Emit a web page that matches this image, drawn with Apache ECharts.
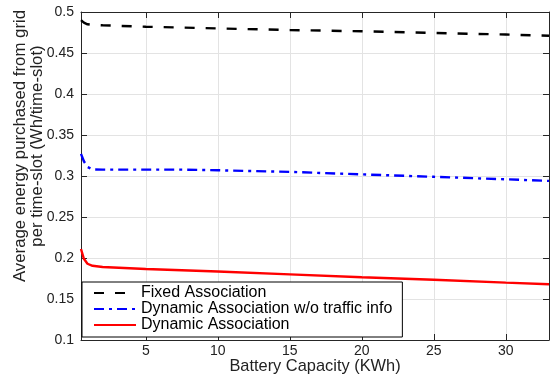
<!DOCTYPE html>
<html>
<head>
<meta charset="utf-8">
<script src="https://cdn.jsdelivr.net/npm/echarts@6/dist/echarts.min.js"></script>
<style>html,body{margin:0;padding:0;background:#fff;}#c{width:550px;height:377px;}</style>
</head>
<body>
<div id="c"></div>
<script>
const capacity = [0.5, 0.7, 0.95, 1.3, 2, 5, 7.5, 10, 15, 20, 25, 30, 33];
const fixedAssoc = [0.490, 0.487, 0.485, 0.4843, 0.4838, 0.482, 0.481, 0.480, 0.478, 0.4765, 0.4745, 0.4725, 0.471];
const dynNoTraffic = [0.327, 0.318, 0.311, 0.308, 0.3078, 0.3078, 0.3078, 0.307, 0.305, 0.302, 0.299, 0.296, 0.294];
const dynAssoc = [0.211, 0.199, 0.193, 0.1905, 0.189, 0.1865, 0.185, 0.1835, 0.180, 0.1765, 0.1735, 0.170, 0.168];
const xTicks = [5, 10, 15, 20, 25, 30];
const seriesNames = ['Fixed Association', 'Dynamic Association w/o traffic info', 'Dynamic Association'];
const xTitle = 'Battery Capacity (KWh)';
const yTitle = 'Average energy purchased from grid\nper time-slot (Wh/time-slot)';

const font = 'Liberation Sans, Arial, Helvetica, sans-serif';
const txt = '#222';
const axisCol = '#262626';
const pair = arr => capacity.map((x, i) => [x, arr[i]]);

const chart = echarts.init(document.getElementById('c'), null, {renderer: 'canvas'});
const baseX = {
  type: 'value', min: 0.5, max: 33,
  axisLine: {show: true, onZero: false, lineStyle: {color: axisCol, width: 1}},
  axisTick: {show: true, inside: true, length: 6, customValues: xTicks, lineStyle: {color: axisCol}},
  splitLine: {show: false}
};
const baseY = {
  type: 'value', min: 0.1, max: 0.5, interval: 0.05,
  axisLine: {show: true, onZero: false, lineStyle: {color: axisCol, width: 1}},
  axisTick: {show: true, inside: true, length: 6, lineStyle: {color: axisCol}},
  splitLine: {show: false}
};
chart.setOption({
  animation: false,
  backgroundColor: '#fff',
  textStyle: {fontFamily: font},
  grid: {left: 81, right: 1, top: 12, bottom: 37, containLabel: false, outerBoundsMode: 'none'},
  graphic: [{
    type: 'text', x: 28.5, y: 146, rotation: Math.PI / 2,
    style: {text: yTitle, fontSize: 16.8, lineHeight: 17, fill: txt, fontFamily: font,
            align: 'center', verticalAlign: 'middle'}
  }],
  xAxis: [
    Object.assign({}, baseX, {
      position: 'bottom',
      name: xTitle, nameLocation: 'middle', nameGap: 18, nameMoveOverlap: false,
      nameTextStyle: {fontSize: 16.4, color: txt, fontFamily: font},
      axisLabel: {show: true, customValues: xTicks, margin: 4, fontSize: 14, color: txt, fontFamily: font},
      splitLine: {show: true, lineStyle: {color: '#e3e3e3', width: 1}}
    }),
    Object.assign({}, baseX, {position: 'top', axisLabel: {show: false}})
  ],
  yAxis: [
    Object.assign({}, baseY, {
      position: 'left',
      axisLabel: {show: true, margin: 7, fontSize: 14, color: txt, fontFamily: font},
      splitLine: {show: true, lineStyle: {color: '#e3e3e3', width: 1}}
    }),
    Object.assign({}, baseY, {position: 'right', axisLabel: {show: false}})
  ],
  legend: {
    orient: 'vertical', left: 82, top: 282,
    padding: [3, 10, 4, 11], itemGap: 0,
    itemWidth: 42, itemHeight: 14,
    backgroundColor: '#fff', borderColor: '#000', borderWidth: 1, borderRadius: 0,
    itemStyle: {opacity: 0},
    textStyle: {fontSize: 16, lineHeight: 16, color: '#000', fontFamily: font},
    data: seriesNames
  },
  series: [
    {name: seriesNames[0], type: 'line', data: pair(fixedAssoc), symbol: 'none', showSymbol: false, z: 3,
     lineStyle: {color: '#000', width: 2.4, type: [10, 11]}, itemStyle: {color: '#000'}},
    {name: seriesNames[1], type: 'line', data: pair(dynNoTraffic), symbol: 'none', showSymbol: false, z: 3,
     lineStyle: {color: '#0000ff', width: 2.4, type: [10, 5, 3, 5]}, itemStyle: {color: '#0000ff'}},
    {name: seriesNames[2], type: 'line', data: pair(dynAssoc), symbol: 'none', showSymbol: false, z: 3,
     lineStyle: {color: '#ff0000', width: 2.4}, itemStyle: {color: '#ff0000'}}
  ]
});
</script>
</body>
</html>
